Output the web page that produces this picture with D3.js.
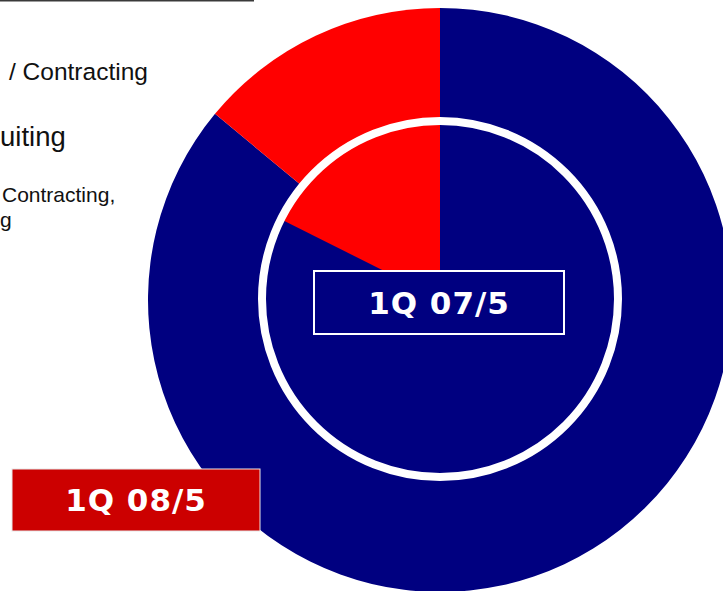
<!DOCTYPE html>
<html>
<head>
<meta charset="utf-8">
<script src="https://cdn.jsdelivr.net/npm/d3@7"></script>
<style>
  html, body { margin: 0; padding: 0; background: #ffffff; overflow: hidden; }
  svg { display: block; }
</style>
</head>
<body>
<svg id="chart" width="723" height="591"></svg>
<script>
// Share split per period: [rest, highlighted segment]
const segments = ["Other", "Highlighted"];
const outerValues = [86, 14];       // 1Q 08/5
const innerValues = [82.4, 17.6];   // 1Q 07/5
const periodLabels = ["1Q 08/5", "1Q 07/5"];
const sliceColors = ["#000080", "#FF0000"];

// Legend-style text fragments on the left side
const sideText = [
  { text: "/ Contracting", x: 9, y: 80, size: 24.5 },
  { text: "uiting", x: 0, y: 146, size: 27.5 },
  { text: "Contracting,", x: 2, y: 202, size: 21 },
  { text: "g", x: 0, y: 227, size: 21 }
];

const svg = d3.select("#chart");

const color = d3.scaleOrdinal().domain(segments).range(sliceColors);
const pie = d3.pie().sort(null).value(d => d.value);

function toData(values) {
  return values.map((v, i) => ({ name: segments[i], value: v }));
}

// Outer pie (1Q 08/5)
const outerR = 292;
const outerG = svg.append("g").attr("transform", "translate(440,300)");
outerG.selectAll("path")
  .data(pie(toData(outerValues)))
  .join("path")
  .attr("d", d3.arc().innerRadius(0).outerRadius(outerR))
  .attr("fill", d => color(d.data.name));

// Inner pie (1Q 07/5) with white rim
const innerR = 178;
const innerG = svg.append("g").attr("transform", "translate(440,299)");
innerG.selectAll("path")
  .data(pie(toData(innerValues)))
  .join("path")
  .attr("d", d3.arc().innerRadius(0).outerRadius(innerR))
  .attr("fill", d => color(d.data.name));
innerG.append("circle")
  .attr("r", innerR)
  .attr("fill", "none")
  .attr("stroke", "#ffffff")
  .attr("stroke-width", 8);

// Period label boxes
function labelBox(x, y, w, h, fill, stroke, sw, text) {
  const g = svg.append("g");
  g.append("rect")
    .attr("x", x).attr("y", y).attr("width", w).attr("height", h)
    .attr("fill", fill).attr("stroke", stroke).attr("stroke-width", sw);
  g.append("text")
    .attr("x", x + w / 2).attr("y", y + h / 2 + 11)
    .attr("text-anchor", "middle")
    .attr("fill", "#ffffff")
    .attr("font-family", "DejaVu Sans, sans-serif")
    .attr("font-weight", "bold")
    .attr("font-size", 31)
    .attr("letter-spacing", 1)
    .text(text);
}
labelBox(314, 271, 250, 63, "#000080", "#ffffff", 2, periodLabels[1]);
labelBox(12, 469, 248, 62, "#CC0000", "#e8e8e8", 1, periodLabels[0]);

// Left text fragments
svg.append("g").selectAll("text")
  .data(sideText)
  .join("text")
  .attr("x", d => d.x).attr("y", d => d.y)
  .attr("font-family", "Liberation Sans, Arial, sans-serif")
  .attr("font-size", d => d.size)
  .attr("fill", "#111111")
  .text(d => d.text);

// Top rule
svg.append("line")
  .attr("x1", 0).attr("x2", 254)
  .attr("y1", 0.5).attr("y2", 0.5)
  .attr("stroke", "#3a3a3a")
  .attr("stroke-width", 2);
</script>
</body>
</html>
